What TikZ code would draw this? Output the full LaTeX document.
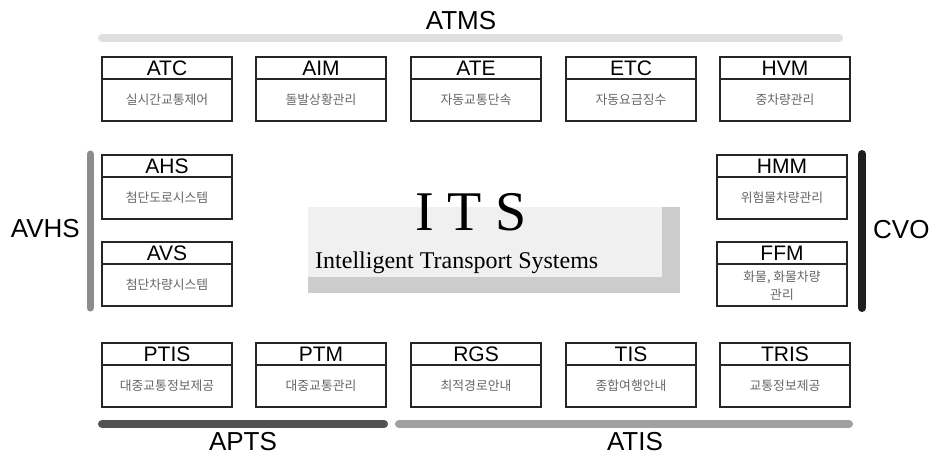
\documentclass[tikz,border=0pt]{standalone}
\usepackage{fontspec}
\setmainfont{Liberation Sans}
\newfontfamily\serifits{Liberation Serif}
\newfontfamily\kor{Noto Sans CJK KR}
\usepackage{tikz}
\usetikzlibrary{positioning}
\tikzstyle{sysBox}=[draw=black!85,line width=1.3pt,minimum width=130pt,minimum height=64pt,inner sep=0pt]
\tikzstyle{sysTitle}=[draw=black!85,line width=1.3pt,minimum width=130pt,minimum height=22pt,inner sep=0pt,anchor=north,font=\fontsize{21}{22}\selectfont]
\tikzstyle{sysDesc}=[font=\kor\fontsize{12.8}{18}\selectfont,text=black!60,align=center,inner sep=0pt]
\tikzstyle{groupLabel}=[font=\fontsize{26}{30}\selectfont,inner sep=0pt]
\tikzstyle{groupBar}=[line width=8pt,line cap=round]

\begin{document}
\begin{tikzpicture}[x=1pt,y=-1pt]

    \useasboundingbox (0,0) rectangle (940,456);
    \fill[white] (0,0) rectangle (940,456);

    % group bars

    \draw[groupBar, black!12] (102,38) -- (839,38);
    \draw[groupBar, line width=7pt, black!45] (90,154) -- (90,308);
    \draw[groupBar, black!88] (862,154) -- (862,308);
    \draw[groupBar, black!68] (102,424) -- (384,424);
    \draw[groupBar, black!37] (399,424) -- (849,424);

    % group labels

    \node[groupLabel, anchor=base] (atms) at (461,29) {ATMS};
    \node[groupLabel, anchor=base east] (avhs) at (80,237) {AVHS};
    \node[groupLabel, anchor=base west] (cvo) at (873,238) {CVO};
    \node[groupLabel, anchor=base] (apts) at (243,450) {APTS};
    \node[groupLabel, anchor=base] (atis) at (635,450) {ATIS};

    % centre

    \fill[black!20] (308,207) rectangle (680,293);
    \fill[black!6] (308,207) rectangle (662,277);
    \node[font=\serifits\fontsize{56}{60}\selectfont, anchor=base, inner sep=0pt] (its) at (471,230) {I T S};
    \node[font=\serifits\fontsize{24}{28}\selectfont, anchor=base west, inner sep=0pt] (itsFull) at (315,268) {Intelligent Transport Systems};

    % ATMS row

    \node[sysBox] (atc) at (167,89) {};
    \node[sysTitle] (atcT) at (atc.north) {ATC};
    \node[sysDesc] (atcD) at (167,100) {실시간교통제어};

    \node[sysBox] (aim) at (321,89) {};
    \node[sysTitle] (aimT) at (aim.north) {AIM};
    \node[sysDesc] (aimD) at (321,100) {돌발상황관리};

    \node[sysBox] (ate) at (476,89) {};
    \node[sysTitle] (ateT) at (ate.north) {ATE};
    \node[sysDesc] (ateD) at (476,100) {자동교통단속};

    \node[sysBox] (etc) at (631,89) {};
    \node[sysTitle] (etcT) at (etc.north) {ETC};
    \node[sysDesc] (etcD) at (631,100) {자동요금징수};

    \node[sysBox] (hvm) at (785,89) {};
    \node[sysTitle] (hvmT) at (hvm.north) {HVM};
    \node[sysDesc] (hvmD) at (785,100) {중차량관리};

    % AVHS column

    \node[sysBox] (ahs) at (167,187) {};
    \node[sysTitle] (ahsT) at (ahs.north) {AHS};
    \node[sysDesc] (ahsD) at (167,198) {첨단도로시스템};

    \node[sysBox] (avs) at (167,274) {};
    \node[sysTitle] (avsT) at (avs.north) {AVS};
    \node[sysDesc] (avsD) at (167,285) {첨단차량시스템};

    % CVO column

    \node[sysBox] (hmm) at (782,187) {};
    \node[sysTitle] (hmmT) at (hmm.north) {HMM};
    \node[sysDesc] (hmmD) at (782,198) {위험물차량관리};

    \node[sysBox] (ffm) at (782,274) {};
    \node[sysTitle] (ffmT) at (ffm.north) {FFM};
    \node[sysDesc] (ffmD) at (782,286) {화물, 화물차량\\관리};

    % APTS / ATIS row

    \node[sysBox] (ptis) at (167,375) {};
    \node[sysTitle] (ptisT) at (ptis.north) {PTIS};
    \node[sysDesc] (ptisD) at (167,386) {대중교통정보제공};

    \node[sysBox] (ptm) at (321,375) {};
    \node[sysTitle] (ptmT) at (ptm.north) {PTM};
    \node[sysDesc] (ptmD) at (321,386) {대중교통관리};

    \node[sysBox] (rgs) at (476,375) {};
    \node[sysTitle] (rgsT) at (rgs.north) {RGS};
    \node[sysDesc] (rgsD) at (476,386) {최적경로안내};

    \node[sysBox] (tis) at (631,375) {};
    \node[sysTitle] (tisT) at (tis.north) {TIS};
    \node[sysDesc] (tisD) at (631,386) {종합여행안내};

    \node[sysBox] (tris) at (785,375) {};
    \node[sysTitle] (trisT) at (tris.north) {TRIS};
    \node[sysDesc] (trisD) at (785,386) {교통정보제공};

\end{tikzpicture}
\end{document}
